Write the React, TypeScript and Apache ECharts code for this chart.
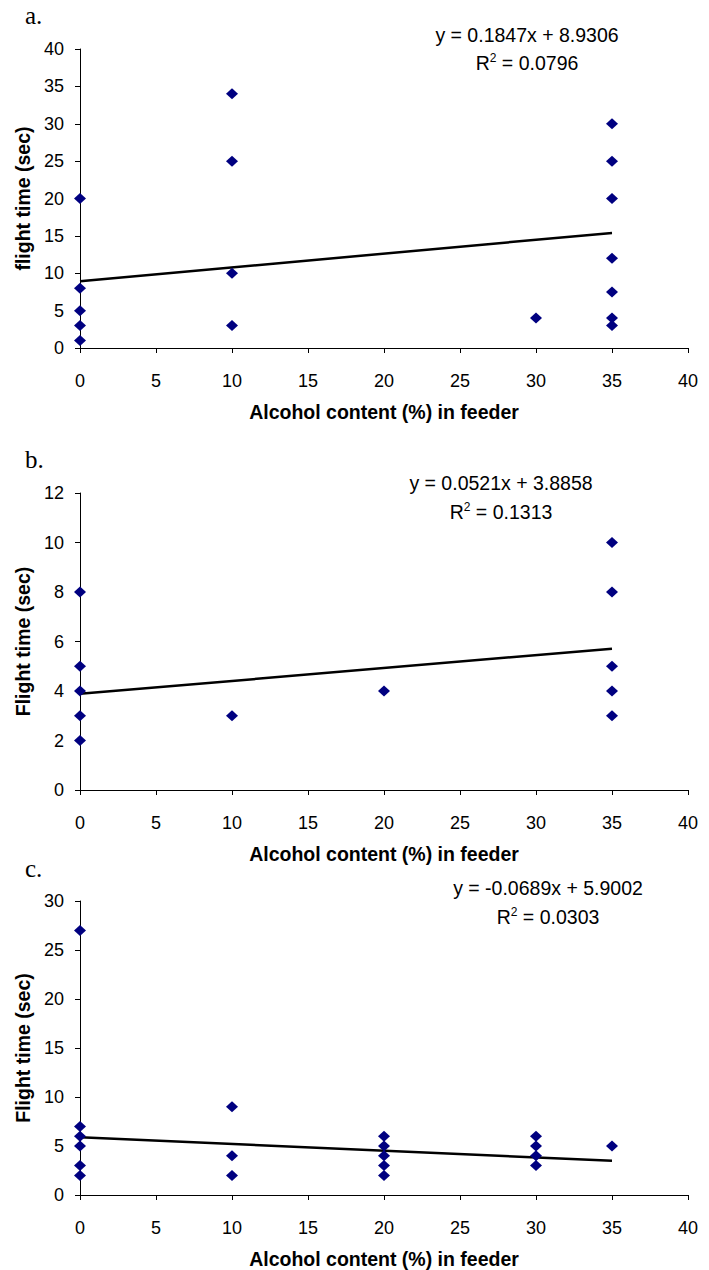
import React, { useEffect, useRef } from "react";
import * as echarts from "echarts";

// ---------- data ----------
const panelLabels = ["a.", "b.", "c."];
const yAxisTitles = ["flight time (sec)", "Flight time (sec)", "Flight time (sec)"];
const xAxisTitle = "Alcohol content (%) in feeder";
const xMin = 0;
const xMax = 40;
const xInterval = 5;
const yMaxes = [40, 12, 30];
const yIntervals = [5, 2, 5];

// panel a
const alcoholA = [0, 0, 0, 0, 0, 10, 10, 10, 10, 30, 35, 35, 35, 35, 35, 35, 35];
const flightA = [20, 8, 5, 3, 1, 34, 25, 10, 3, 4, 30, 25, 20, 12, 7.5, 4, 3];
// panel b
const alcoholB = [0, 0, 0, 0, 0, 10, 20, 35, 35, 35, 35, 35];
const flightB = [8, 5, 4, 3, 2, 3, 4, 10, 8, 5, 4, 3];
// panel c
const alcoholC = [0, 0, 0, 0, 0, 0, 10, 10, 10, 20, 20, 20, 20, 20, 30, 30, 30, 30, 35];
const flightC = [27, 7, 6, 5, 3, 2, 9, 4, 2, 6, 5, 4, 3, 2, 6, 5, 4, 3, 5];

// trend lines (from the printed equations)
const slopes = [0.1847, 0.0521, -0.0689];
const intercepts = [8.9306, 3.8858, 5.9002];
const trendXStart = [0, 0, 0];
const trendXEnd = [35, 35, 35];
const equations = ["y = 0.1847x + 8.9306", "y = 0.0521x + 3.8858", "y = -0.0689x + 5.9002"];
const rSquaredValues = ["0.0796", "0.1313", "0.0303"];

const alcohol = [alcoholA, alcoholB, alcoholC];
const flight = [flightA, flightB, flightC];

// ---------- layout ----------
const W = 709;
const H = 1270;
const FONT = "'Liberation Sans', Arial, Helvetica, sans-serif";
const SERIF = "'Liberation Serif', 'Times New Roman', serif";
const gridTops = [49, 493, 901];
const gridHeights = [299, 297, 296];
const gridLeft = 80;
const gridWidth = 608;
const eqPos = [
  { x: 527, y1: 35, y2: 63 },
  { x: 501, y1: 483, y2: 512 },
  { x: 548, y1: 888, y2: 917 },
];
const labelPos = [
  { x: 25, y: 28 },
  { x: 25, y: 472 },
  { x: 25, y: 881 },
];

export default function App() {
  const ref = useRef<HTMLDivElement>(null);

  useEffect(() => {
    document.body.style.margin = "0";
    if (!ref.current) return;
    const chart = echarts.init(ref.current, undefined, { renderer: "svg", width: W, height: H });

    const grids = gridTops.map((top, i) => ({
      left: gridLeft,
      top,
      width: gridWidth,
      height: gridHeights[i],
      containLabel: false,
    }));

    const axisLine = { show: true, onZero: false, lineStyle: { color: "#000", width: 1 } };
    const axisTick = { show: true, inside: false, length: 5, lineStyle: { color: "#000", width: 1 } };

    const xAxes = gridTops.map((_, i) => ({
      type: "value",
      gridIndex: i,
      min: xMin,
      max: xMax,
      interval: xInterval,
      axisLine,
      axisTick,
      splitLine: { show: false },
      axisLabel: { color: "#000", fontFamily: FONT, fontSize: 18, margin: 24 },
      name: xAxisTitle,
      nameLocation: "middle",
      nameGap: 54,
      nameTextStyle: { color: "#000", fontFamily: FONT, fontSize: 19.5, fontWeight: "bold" },
    }));

    const yAxes = gridTops.map((_, i) => ({
      type: "value",
      gridIndex: i,
      min: 0,
      max: yMaxes[i],
      interval: yIntervals[i],
      axisLine,
      axisTick,
      splitLine: { show: false },
      axisLabel: { color: "#000", fontFamily: FONT, fontSize: 18, margin: 16 },
      name: yAxisTitles[i],
      nameLocation: "middle",
      nameRotate: 90,
      nameGap: 46,
      nameTextStyle: { color: "#000", fontFamily: FONT, fontSize: 19.5, fontWeight: "bold" },
    }));

    const series: any[] = [];
    gridTops.forEach((_, i) => {
      series.push({
        type: "line",
        xAxisIndex: i,
        yAxisIndex: i,
        data: [
          [trendXStart[i], intercepts[i] + slopes[i] * trendXStart[i]],
          [trendXEnd[i], intercepts[i] + slopes[i] * trendXEnd[i]],
        ],
        symbol: "none",
        lineStyle: { color: "#000", width: 2.5 },
        z: 2,
        silent: true,
      });
      series.push({
        type: "scatter",
        xAxisIndex: i,
        yAxisIndex: i,
        data: alcohol[i].map((x, k) => [x, flight[i][k]]),
        symbol: "diamond",
        symbolSize: [12, 11],
        itemStyle: { color: "#000080", opacity: 1 },
        z: 3,
        silent: true,
      });
    });

    const graphics: any[] = [];
    gridTops.forEach((_, i) => {
      graphics.push({
        type: "text",
        x: labelPos[i].x,
        y: labelPos[i].y,
        style: {
          text: panelLabels[i],
          font: `25px ${SERIF}`,
          fill: "#000",
          align: "left",
          verticalAlign: "bottom",
        },
      });
      graphics.push({
        type: "text",
        x: eqPos[i].x,
        y: eqPos[i].y1,
        style: {
          text: equations[i],
          font: `19.5px ${FONT}`,
          fill: "#000",
          align: "center",
          verticalAlign: "middle",
        },
      });
      graphics.push({
        type: "text",
        x: eqPos[i].x,
        y: eqPos[i].y2,
        style: {
          text: `R{sup|2} = ${rSquaredValues[i]}`,
          fontFamily: FONT,
          fontSize: 19.5,
          fill: "#000",
          align: "center",
          verticalAlign: "middle",
          rich: {
            sup: {
              fontFamily: FONT,
              fontSize: 12,
              fill: "#000",
              verticalAlign: "top",
              lineHeight: 22,
            },
          },
          lineHeight: 22,
        },
      });
    });

    chart.setOption({
      animation: false,
      backgroundColor: "#fff",
      grid: grids,
      xAxis: xAxes,
      yAxis: yAxes,
      series,
      graphic: graphics,
    });

    return () => chart.dispose();
  }, []);

  return <div ref={ref} style={{ width: W, height: H, background: "#fff" }} />;
}
